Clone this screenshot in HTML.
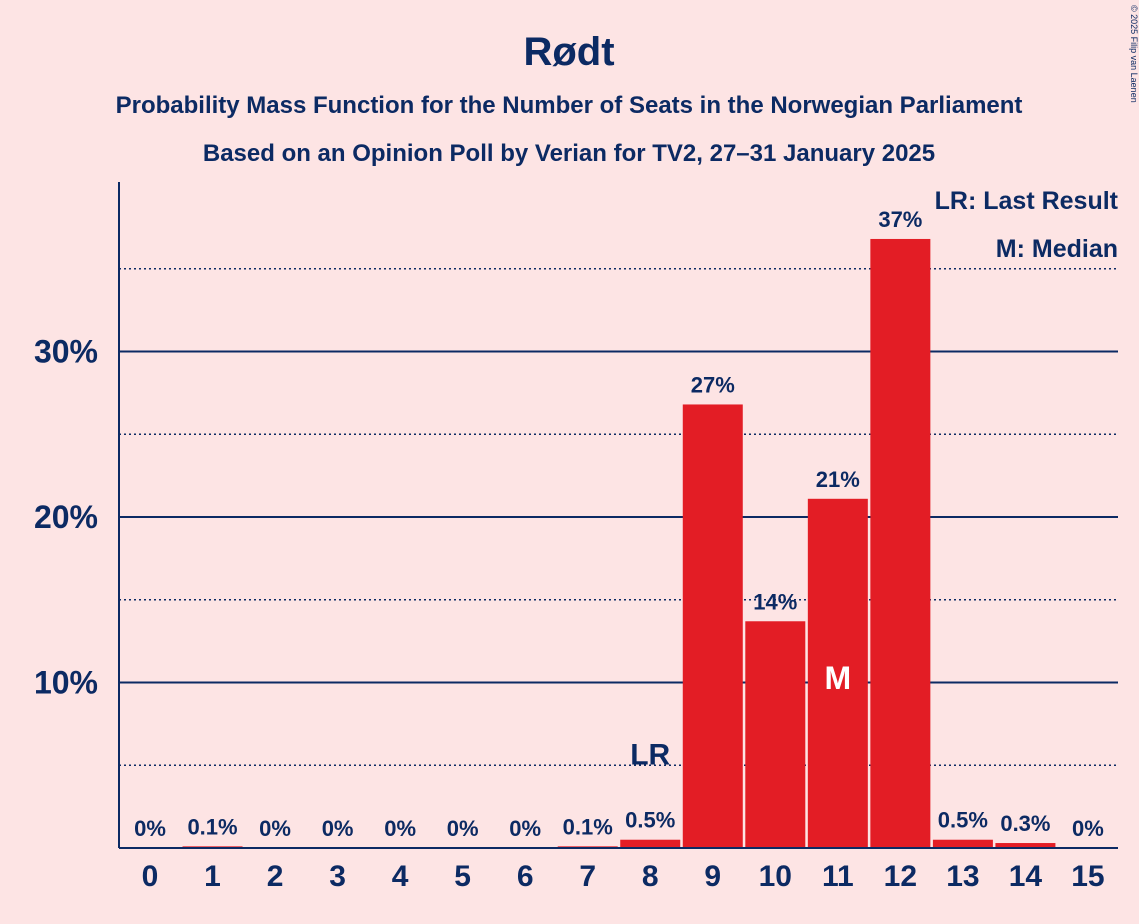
<!DOCTYPE html>
<html><head><meta charset="utf-8"><style>
body{margin:0;background:#fde4e4;}
svg{display:block;font-family:"Liberation Sans",sans-serif;}
</style></head><body>
<svg id="c" width="1139" height="924">
<rect width="1139" height="924" fill="#fde4e4"/>
<text x="569" y="65" text-anchor="middle" font-size="40" font-weight="bold" fill="#0c2a63">Rødt</text>
<text x="569" y="113" text-anchor="middle" font-size="24" font-weight="bold" fill="#0c2a63">Probability Mass Function for the Number of Seats in the Norwegian Parliament</text>
<text x="569" y="161" text-anchor="middle" font-size="24" font-weight="bold" fill="#0c2a63">Based on an Opinion Poll by Verian for TV2, 27–31 January 2025</text>
<text x="1131" y="5" transform="rotate(90 1131 5)" font-size="9" fill="#0c2a63">© 2025 Filip van Laenen</text>
<g id="grid"></g><g id="bars"></g>
<line x1="119" y1="182" x2="119" y2="848" stroke="#0c2a63" stroke-width="2"/>
<line x1="119" y1="848" x2="1118" y2="848" stroke="#0c2a63" stroke-width="2"/>
<text x="1118" y="209" text-anchor="end" font-size="25" font-weight="bold" fill="#0c2a63">LR: Last Result</text>
<text x="1118" y="257" text-anchor="end" font-size="25" font-weight="bold" fill="#0c2a63">M: Median</text>
</svg>
<script>
const seats=[0,1,2,3,4,5,6,7,8,9,10,11,12,13,14,15];
const probs=[0,0.1,0,0,0,0,0,0.1,0.5,26.8,13.7,21.1,36.8,0.5,0.3,0];
const labels=["0%","0.1%","0%","0%","0%","0%","0%","0.1%","0.5%","27%","14%","21%","37%","0.5%","0.3%","0%"];
const yTicks=[10,20,30];
const yTickLabels=["10%","20%","30%"];
const yMinor=[5,15,25,35];
const lastResult=8, median=11;
const NS="http://www.w3.org/2000/svg";
const y=v=>848-v*16.55;
const x=i=>150+i*62.53;
function mk(t,a,p){const e=document.createElementNS(NS,t);for(const k in a)e.setAttribute(k,a[k]);p.appendChild(e);return e;}
const g=document.getElementById('grid'),b=document.getElementById('bars');
yMinor.forEach(v=>{const l=mk('line',{x1:119,x2:1118,y1:y(v),y2:y(v),stroke:'#0c2a63','stroke-width':1.5,'stroke-dasharray':'2,3'},g);

});
yTicks.forEach((v,i)=>{const l=mk('line',{x1:119,x2:1118,y1:y(v),y2:y(v),stroke:'#0c2a63','stroke-width':2},g);


const t=mk('text',{x:98,y:y(v)+11,'text-anchor':'end','font-size':32,'font-weight':'bold',fill:'#0c2a63'},g);t.textContent=yTickLabels[i];

});
seats.forEach((s,i)=>{const p=probs[i];
if(p>0){const r=mk('rect',{x:x(i)-30,y:y(p),width:60,height:848-y(p),fill:'#e31d25'},b);

}
const t=mk('text',{x:x(i),y:y(p)-12,'text-anchor':'middle','font-size':22,'font-weight':'bold',fill:'#0c2a63'},b);t.textContent=labels[i];


const xl=mk('text',{x:x(i),y:886,'text-anchor':'middle','font-size':30,'font-weight':'bold',fill:'#0c2a63'},b);xl.textContent=s;

});
const lr=mk('text',{x:x(lastResult),y:y(probs[lastResult])-75,'text-anchor':'middle','font-size':30,'font-weight':'bold',fill:'#0c2a63'},b);lr.textContent='LR';


const m=mk('text',{x:x(median),y:689,'text-anchor':'middle','font-size':32,'font-weight':'bold',fill:'#ffffff'},b);m.textContent='M';


</script>
</body></html>
